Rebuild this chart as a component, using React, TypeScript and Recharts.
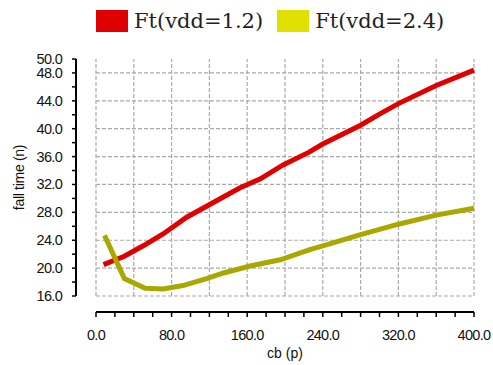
import { LineChart, Line, XAxis, YAxis, ReferenceLine, Legend } from "recharts";

// series
const redX = [8, 30, 50, 71, 96, 128, 152, 174, 198, 225, 240, 280, 300, 320, 360, 400];
const redY = [20.5, 21.7, 23.2, 24.9, 27.3, 29.7, 31.5, 32.8, 34.8, 36.6, 37.8, 40.5, 42.1, 43.6, 46.2, 48.4];
const yelX = [9, 30, 52, 71, 92, 117, 135, 163, 195, 227, 240, 280, 320, 360, 400];
const yelY = [24.7, 18.5, 17.1, 17.0, 17.5, 18.5, 19.3, 20.3, 21.2, 22.7, 23.2, 24.8, 26.3, 27.6, 28.6];

const seriesNames = ["Ft(vdd=1.2)", "Ft(vdd=2.4)"];
const lineColors = ["#e00000", "#a8a800"];
const legendColors = ["#e00000", "#e0e000"];

const xTicks = [0, 20, 40, 60, 80, 100, 120, 140, 160, 180, 200, 220, 240, 260, 280, 300, 320, 340, 360, 380, 400];
const xLabelled = [0, 80, 160, 240, 320, 400];
const xGrid = [0, 40, 80, 120, 160, 200, 240, 280, 320, 360, 400];
const yTicks = [16, 18, 20, 22, 24, 26, 28, 30, 32, 34, 36, 38, 40, 42, 44, 46, 48, 50];
const yLabelled = [16, 20, 24, 28, 32, 36, 40, 44, 48, 50];
const yGrid = [16, 20, 24, 28, 32, 36, 40, 44, 48];

const redData = redX.map((x, i) => ({ x, y: redY[i] }));
const yelData = yelX.map((x, i) => ({ x, y: yelY[i] }));

const tickFont = {
  fontFamily: "'Liberation Sans', Arial, sans-serif",
  fontSize: 14.5,
  letterSpacing: -0.7,
  fill: "#111",
};

const XTick = ({ x, y, payload }: any) => (
  <g>
    <line x1={x} x2={x} y1={y + 16} y2={y + 21} stroke="#000" strokeWidth={1.5} />
    {xLabelled.includes(payload.value) && (
      <text x={x} y={y + 44} textAnchor="middle" {...tickFont}>
        {payload.value.toFixed(1)}
      </text>
    )}
  </g>
);

const YTick = ({ x, y, payload }: any) => (
  <g>
    <line x1={x - 24} x2={x - 20} y1={y} y2={y} stroke="#000" strokeWidth={1.5} />
    {yLabelled.includes(payload.value) && (
      <text x={x - 34} y={y + 5} textAnchor="end" {...tickFont}>
        {payload.value.toFixed(1)}
      </text>
    )}
  </g>
);

const LegendBox = () => (
  <div style={{ display: "flex", alignItems: "center" }}>
    {seriesNames.map((n, i) => (
      <div key={n} style={{ display: "flex", alignItems: "center", marginRight: 14 }}>
        <div style={{ width: 32, height: 22, background: legendColors[i], marginRight: 6 }} />
        <span
          style={{
            fontFamily: "'DejaVu Serif', serif",
            fontSize: 21,
            lineHeight: "22px",
            color: "#222",
            whiteSpace: "nowrap",
          }}
        >
          {n}
        </span>
      </div>
    ))}
  </div>
);

export default function App() {
  return (
    <div style={{ position: "absolute", left: 0, top: 0, background: "#fff" }}>
      <LineChart width={493} height={365} margin={{ top: 37, right: 19, bottom: 0, left: 0 }}>
        <XAxis
          dataKey="x"
          type="number"
          domain={[0, 400]}
          ticks={xTicks}
          interval={0}
          height={69}
          tickSize={0}
          tickMargin={0}
          tick={<XTick />}
          axisLine={{ stroke: "#000", strokeWidth: 2, transform: "translate(0,16)" }}
          label={{
            value: "cb (p)",
            position: "insideBottom",
            offset: 7,
            style: { fontFamily: "'Liberation Sans', Arial, sans-serif", fontSize: 14, fill: "#111" },
          }}
        />
        <YAxis
          type="number"
          domain={[16, 50]}
          ticks={yTicks}
          interval={0}
          width={96}
          tickSize={0}
          tickMargin={0}
          tick={<YTick />}
          axisLine={{ stroke: "#000", strokeWidth: 2, transform: "translate(-20,0)" }}
          label={{
            value: "fall time (n)",
            angle: -90,
            position: "insideLeft",
            offset: 19,
            style: {
              textAnchor: "middle",
              fontFamily: "'Liberation Sans', Arial, sans-serif",
              fontSize: 14,
              letterSpacing: -0.3,
              fill: "#111",
            },
          }}
        />
        {xGrid.map((v) => (
          <ReferenceLine key={"gx" + v} x={v} stroke="#aaa" strokeDasharray="4 2" strokeWidth={1.2} />
        ))}
        {yGrid.map((v) => (
          <ReferenceLine key={"gy" + v} y={v} stroke="#aaa" strokeDasharray="4 2" strokeWidth={1.2} />
        ))}
        <Legend
          verticalAlign="top"
          align="left"
          content={<LegendBox />}
          wrapperStyle={{ top: 10, left: 96, width: "auto" }}
        />
        <Line
          data={redData}
          dataKey="y"
          name={seriesNames[0]}
          stroke={lineColors[0]}
          strokeWidth={5}
          dot={false}
          isAnimationActive={false}
        />
        <Line
          data={yelData}
          dataKey="y"
          name={seriesNames[1]}
          stroke={lineColors[1]}
          strokeWidth={5}
          dot={false}
          isAnimationActive={false}
        />
      </LineChart>
    </div>
  );
}
